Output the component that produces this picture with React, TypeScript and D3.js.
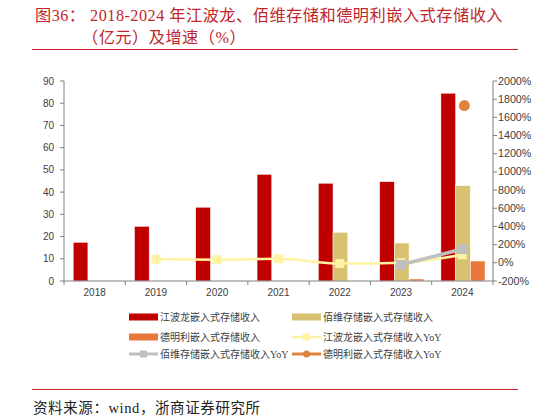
import React from "react";
import * as d3 from "d3";

const years = ["2018", "2019", "2020", "2021", "2022", "2023", "2024"];
const jblRevenue = [17.4, 24.6, 33.2, 48.0, 44.0, 44.7, 84.5];
const bwRevenue: (number | null)[] = [null, null, null, null, 21.9, 17.1, 42.9];
const dmlRevenue: (number | null)[] = [null, null, null, null, null, 0.9, 9.0];
const jblYoY: (number | null)[] = [null, 40, 35, 45, -8, 2, 89];
const bwYoY: (number | null)[] = [null, null, null, null, null, -22, 152];
const dmlYoY: (number | null)[] = [null, null, null, null, null, null, 1730];
const leftTicks = [0, 10, 20, 30, 40, 50, 60, 70, 80, 90];
const rightTicks = [-200, 0, 200, 400, 600, 800, 1000, 1200, 1400, 1600, 1800, 2000];

const C_RED = "#C00000";
const C_BEIGE = "#D9C172";
const C_ORANGE = "#E8793A";
const C_YELLOW = "#FFF2A3";
const C_GRAY = "#BFBFBF";
const C_DOT = "#E0843D";
const AXIS = "#808080";
const TXT = "#404040";

export default function App() {
  const left = 64, right = 493, top = 81, bottom = 281;
  const x = d3.scaleBand<string>().domain(years).range([left, right]).paddingInner(0).paddingOuter(0);
  const bw = x.bandwidth();
  const sub = d3.scaleBand<number>().domain([0, 1, 2]).range([bw * 0.15, bw * 0.87]).padding(0);
  const yL = d3.scaleLinear().domain([0, 90]).range([bottom, top]);
  const yR = d3.scaleLinear().domain([-200, 2000]).range([bottom, top]);
  const cx = (y: string) => (x(y) as number) + bw / 2;

  const series = [
    { vals: jblRevenue, color: C_RED, i: 0 },
    { vals: bwRevenue, color: C_BEIGE, i: 1 },
    { vals: dmlRevenue, color: C_ORANGE, i: 2 },
  ];

  const lineGen = d3
    .line<[string, number | null]>()
    .defined((d) => d[1] != null)
    .x((d) => cx(d[0]))
    .y((d) => yR(d[1] as number))
    .curve(d3.curveMonotoneX);

  const zip = (v: (number | null)[]) => years.map((y, i) => [y, v[i]] as [string, number | null]);

  const fontCJK = "'Liberation Serif', 'Noto Sans CJK SC', serif";
  const fontAxis = "'Liberation Sans', Arial, sans-serif";

  const legend = [
    { label: "江波龙嵌入式存储收入", type: "bar", color: C_RED, col: 0, row: 0 },
    { label: "佰维存储嵌入式存储收入", type: "bar", color: C_BEIGE, col: 1, row: 0 },
    { label: "德明利嵌入式存储收入", type: "bar", color: C_ORANGE, col: 0, row: 1 },
    { label: "江波龙嵌入式存储收入YoY", type: "sq", color: C_YELLOW, col: 1, row: 1, w: 2.5 },
    { label: "佰维存储嵌入式存储收入YoY", type: "sq", color: C_GRAY, col: 0, row: 2, w: 3 },
    { label: "德明利嵌入式存储收入YoY", type: "dot", color: C_DOT, col: 1, row: 2, w: 3 },
  ];
  const legX = [129, 292];
  const legY = [317, 337, 354];

  return (
    <svg width={548} height={420} style={{ position: "absolute", left: 0, top: 0, background: "#fff" }}>
      <text x={35} y={21} fontSize={16.2} letterSpacing={0.5} fill="#C0262B" fontFamily={fontCJK}>
        图36： 2018-2024 年江波龙、佰维存储和德明利嵌入式存储收入
      </text>
      <text x={82} y={43} fontSize={16.2} letterSpacing={0.5} fill="#C0262B" fontFamily={fontCJK}>
        （亿元）及增速（%）
      </text>
      <line x1={32} x2={518} y1={49.5} y2={49.5} stroke="#D0202A" strokeWidth={1.2} />

      {/* bars */}
      {series.map((s) =>
        years.map((y, i) => {
          const v = s.vals[i];
          if (v == null) return null;
          const bx = (x(y) as number) + (sub(s.i) as number);
          return (
            <rect key={s.i + "-" + y} x={bx} y={yL(v)} width={sub.bandwidth()} height={bottom - yL(v)} fill={s.color} stroke="#fff" strokeWidth={0.5} />
          );
        })
      )}

      {/* axes */}
      <line x1={left} x2={left} y1={top} y2={bottom} stroke={AXIS} />
      <line x1={right} x2={right} y1={top} y2={bottom} stroke={AXIS} />
      <line x1={left} x2={right} y1={bottom} y2={bottom} stroke={AXIS} />
      {leftTicks.map((t) => (
        <g key={"l" + t}>
          <line x1={left - 4} x2={left} y1={yL(t)} y2={yL(t)} stroke={AXIS} />
          <text x={left - 10} y={yL(t) + 3.5} textAnchor="end" fontSize={10} fill={TXT} fontFamily={fontAxis}>
            {t}
          </text>
        </g>
      ))}
      {rightTicks.map((t) => (
        <g key={"r" + t}>
          <line x1={right} x2={right + 4} y1={yR(t)} y2={yR(t)} stroke={AXIS} />
          <text x={right + 5} y={yR(t) + 3.5} textAnchor="start" fontSize={10.7} fill={TXT} fontFamily={fontAxis}>
            {t + "%"}
          </text>
        </g>
      ))}
      {years.map((y, i) => (
        <g key={"x" + y}>
          <line x1={x(y) as number} x2={x(y) as number} y1={bottom} y2={bottom + 4} stroke={AXIS} />
          {i === years.length - 1 && <line x1={right} x2={right} y1={bottom} y2={bottom + 4} stroke={AXIS} />}
          <text x={cx(y)} y={296} textAnchor="middle" fontSize={10} fill={TXT} fontFamily={fontAxis}>
            {y}
          </text>
        </g>
      ))}

      {/* lines */}
      <path d={lineGen(zip(jblYoY)) || ""} fill="none" stroke={C_YELLOW} strokeWidth={2.5} />
      {zip(jblYoY).map(([y, v]) =>
        v == null ? null : <rect key={"jy" + y} x={cx(y) - 4.5} y={yR(v) - 4.5} width={9} height={9} fill={C_YELLOW} />
      )}
      <path d={lineGen(zip(bwYoY)) || ""} fill="none" stroke={C_GRAY} strokeWidth={3.5} />
      {zip(bwYoY).map(([y, v]) =>
        v == null ? null : <rect key={"by" + y} x={cx(y) - 5} y={yR(v) - 5} width={10} height={10} fill={C_GRAY} />
      )}
      {zip(dmlYoY).map(([y, v]) =>
        v == null ? null : <circle key={"dy" + y} cx={cx(y) + 2} cy={yR(v)} r={5.5} fill={C_DOT} />
      )}

      {/* legend */}
      {legend.map((l, i) => {
        const lx = legX[l.col];
        const ly = legY[l.row];
        return (
          <g key={"lg" + i}>
            {l.type === "bar" && <rect x={lx} y={ly - 3.5} width={29} height={7} fill={l.color} />}
            {l.type !== "bar" && <line x1={lx} x2={lx + 29} y1={ly} y2={ly} stroke={l.color} strokeWidth={l.w} />}
            {l.type === "sq" && <rect x={lx + 11} y={ly - 3.5} width={7} height={7} fill={l.color} />}
            {l.type === "dot" && <circle cx={lx + 14.5} cy={ly} r={3.5} fill={l.color} />}
            <text x={lx + 31} y={ly + 3.6} fontSize={10} fill={TXT} fontFamily={fontCJK}>
              {l.label}
            </text>
          </g>
        );
      })}

      <line x1={32} x2={518} y1={389.5} y2={389.5} stroke="#D0202A" strokeWidth={1.2} />
      <text x={33} y={413} fontSize={14.5} letterSpacing={0.6} fill="#222" fontFamily={fontCJK}>
        资料来源：wind，浙商证券研究所
      </text>
    </svg>
  );
}
